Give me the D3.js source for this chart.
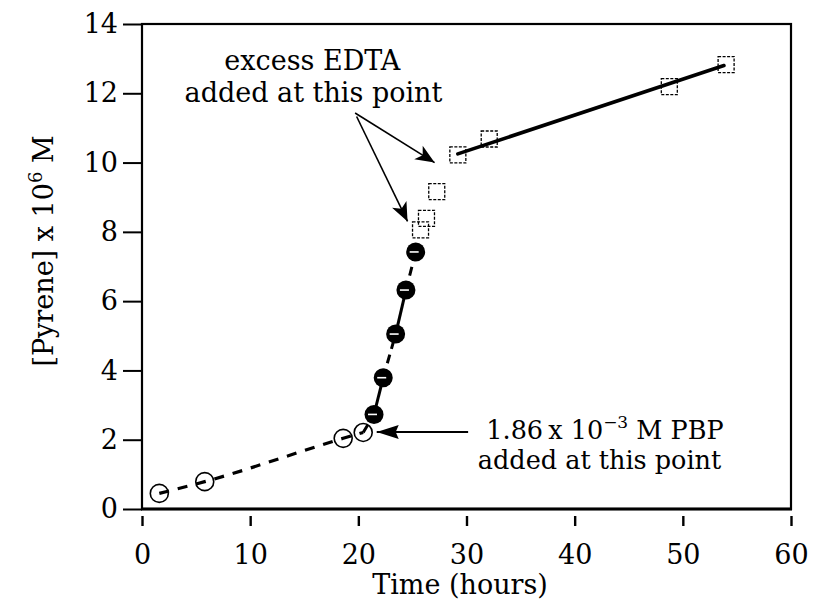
<!DOCTYPE html>
<html>
<head>
<meta charset="utf-8">
<script src="https://cdn.jsdelivr.net/npm/d3@7"></script>
<style>
  html, body { margin: 0; padding: 0; background: #fff; }
  svg { display: block; }
  text { font-family: "DejaVu Serif", "Liberation Serif", serif; fill: #000; }
</style>
</head>
<body>
<svg id="chart" width="817" height="604"></svg>
<script>
// ---- data ----
const xTicks = [0, 10, 20, 30, 40, 50, 60];
const yTicks = [0, 2, 4, 6, 8, 10, 12, 14];

// open circles (before PBP addition)
const openTime = [1.6, 5.8, 18.6, 20.45];
const openConc = [0.45, 0.79, 2.04, 2.21];

// filled circles (after PBP addition)
const filledTime = [21.45, 22.3, 23.45, 24.4, 25.3];
const filledConc = [2.73, 3.79, 5.05, 6.32, 7.42];

// open squares (after EDTA addition)
const squareTime = [25.75, 26.3, 27.25, 29.2, 32.1, 48.75, 54.0];
const squareConc = [8.06, 8.39, 9.16, 10.22, 10.68, 12.19, 12.83];

// linear fit through the late squares (end points)
const fitTime = [29.2, 53.8];
const fitConc = [10.25, 12.8];

const xLabel = "Time (hours)";

// ---- layout ----
const svg = d3.select("#chart");
const m = { left: 142, top: 24, right: 26, bottom: 95 };
const W = 817, H = 604;
const x = d3.scaleLinear().domain([0, 60]).range([m.left, W - m.right]);
const y = d3.scaleLinear().domain([0, 14]).range([H - m.bottom, m.top]);

const zip = (a, b) => a.map((v, i) => [v, b[i]]);
const openPts = zip(openTime, openConc);
const filledPts = zip(filledTime, filledConc);
const squarePts = zip(squareTime, squareConc);
const fitPts = zip(fitTime, fitConc);

// markers (arrowheads)
const defs = svg.append("defs");
defs.append("marker").attr("id", "headA")
  .attr("viewBox", "-20 -10 22 20").attr("refX", 0).attr("refY", 0)
  .attr("markerUnits", "userSpaceOnUse").attr("markerWidth", 22).attr("markerHeight", 20)
  .attr("orient", "auto")
  .append("path").attr("d", "M0,0 L-19,-8 L-14,0 L-19,8 Z").attr("fill", "#000");
defs.append("marker").attr("id", "headB")
  .attr("viewBox", "-24 -10 26 20").attr("refX", 0).attr("refY", 0)
  .attr("markerUnits", "userSpaceOnUse").attr("markerWidth", 26).attr("markerHeight", 20)
  .attr("orient", "auto")
  .append("path").attr("d", "M0,0 L-22,-7 L-19,0 L-22,7 Z").attr("fill", "#000");

// ---- frame ----
svg.append("rect")
  .attr("x", x(0)).attr("y", y(14))
  .attr("width", x(60) - x(0)).attr("height", y(0) - y(14))
  .attr("fill", "none").attr("stroke", "#000").attr("stroke-width", 2.2);
svg.append("line")
  .attr("x1", x(0) - 1).attr("x2", x(60) + 1).attr("y1", y(0)).attr("y2", y(0))
  .attr("stroke", "#000").attr("stroke-width", 3.2);

// ---- axes ----
const xAxis = svg.append("g")
  .attr("transform", `translate(0,${y(0) + 7})`)
  .call(d3.axisBottom(x).tickValues(xTicks).tickFormat(d3.format("d"))
    .tickSize(10).tickPadding(19).tickSizeOuter(0));
xAxis.select(".domain").remove();
xAxis.selectAll(".tick line").attr("stroke", "#000").attr("stroke-width", 2.4);
xAxis.selectAll(".tick text").attr("font-size", 27).attr("font-family", "DejaVu Serif");

const yAxis = svg.append("g")
  .attr("transform", `translate(${x(0)},0)`)
  .call(d3.axisLeft(y).tickValues(yTicks).tickFormat(d3.format("d"))
    .tickSize(19).tickPadding(5).tickSizeOuter(0));
yAxis.select(".domain").remove();
yAxis.selectAll(".tick line").attr("stroke", "#000").attr("stroke-width", 2);
yAxis.selectAll(".tick text").attr("font-size", 27).attr("font-family", "DejaVu Serif");

// axis titles
svg.append("text")
  .attr("x", 460).attr("y", 594)
  .attr("text-anchor", "middle").attr("font-size", 27)
  .text(xLabel);

const yt = svg.append("text")
  .attr("transform", "translate(53,251) rotate(-90)")
  .attr("text-anchor", "middle").attr("font-size", 27);
yt.append("tspan").text("[Pyrene] x 10");
yt.append("tspan").attr("font-size", 18).attr("dy", -11).text("6");
yt.append("tspan").attr("dy", 11).text(" M");

// ---- lines ----
const line = d3.line().x(d => x(d[0])).y(d => y(d[1]));

svg.append("path")
  .datum(openPts)
  .attr("d", line.curve(d3.curveMonotoneX))
  .attr("fill", "none").attr("stroke", "#000").attr("stroke-width", 3.2)
  .attr("stroke-dasharray", "10,9");
line.curve(d3.curveLinear);

// connecting segments from last open circle through filled circles
const chain = [openPts[openPts.length - 1]].concat(filledPts);
for (let i = 0; i < chain.length - 1; i++) {
  const seg = svg.append("path")
    .datum([chain[i], chain[i + 1]])
    .attr("d", line)
    .attr("fill", "none").attr("stroke", "#000").attr("stroke-width", 3);
  if (i % 2 === 0) seg.attr("stroke-dasharray", "9,6");
}

// linear fit for squares
svg.append("path")
  .datum(fitPts)
  .attr("d", line)
  .attr("fill", "none").attr("stroke", "#000").attr("stroke-width", 3.6)
  .attr("stroke-linecap", "round");

// ---- symbols ----
svg.append("g").selectAll("circle")
  .data(openPts).join("circle")
  .attr("cx", d => x(d[0])).attr("cy", d => y(d[1])).attr("r", 9)
  .attr("fill", "none").attr("stroke", "#000").attr("stroke-width", 1.6);

const fg = svg.append("g").selectAll("g")
  .data(filledPts).join("g")
  .attr("transform", d => `translate(${x(d[0])},${y(d[1])})`);
fg.append("circle").attr("r", 9.5).attr("fill", "#000");
fg.append("line").attr("x1", -6).attr("x2", 3).attr("y1", 0).attr("y2", 0)
  .attr("stroke", "#fff").attr("stroke-width", 1.6);

svg.append("g").selectAll("rect")
  .data(squarePts).join("rect")
  .attr("x", d => x(d[0]) - 8).attr("y", d => y(d[1]) - 8)
  .attr("width", 16).attr("height", 16)
  .attr("fill", "none").attr("stroke", "#000").attr("stroke-width", 1.3)
  .attr("stroke-dasharray", "3,1.5");

// ---- annotations ----
const edtaArrows = [
  { from: [19.7, 11.43], to: [27.05, 10.0] },
  { from: [19.84, 11.33], to: [24.55, 8.3] }
];
edtaArrows.forEach(a => {
  svg.append("line")
    .attr("x1", x(a.from[0])).attr("y1", y(a.from[1]))
    .attr("x2", x(a.to[0])).attr("y2", y(a.to[1]))
    .attr("stroke", "#000").attr("stroke-width", 1.6)
    .attr("marker-end", "url(#headA)");
});
svg.append("text").attr("x", x(15.75)).attr("y", y(12.67))
  .attr("text-anchor", "middle").attr("font-size", 27).text("excess EDTA");
svg.append("text").attr("x", x(15.85)).attr("y", y(11.76))
  .attr("text-anchor", "middle").attr("font-size", 27).text("added at this point");

svg.append("line")
  .attr("x1", x(30.15)).attr("y1", y(2.22))
  .attr("x2", x(21.7)).attr("y2", y(2.22))
  .attr("stroke", "#000").attr("stroke-width", 2)
  .attr("marker-end", "url(#headB)");

const pbp = svg.append("text").attr("x", x(42.8)).attr("y", y(2.03))
  .attr("text-anchor", "middle").attr("font-size", 25.5);
pbp.append("tspan").text("1.86\u2009x 10");
pbp.append("tspan").attr("font-size", 17).attr("dy", -11).text("\u22123");
pbp.append("tspan").attr("dy", 11).text(" M PBP");
svg.append("text").attr("x", x(42.3)).attr("y", y(1.16))
  .attr("text-anchor", "middle").attr("font-size", 25.5).text("added at this point");
</script>
</body>
</html>
